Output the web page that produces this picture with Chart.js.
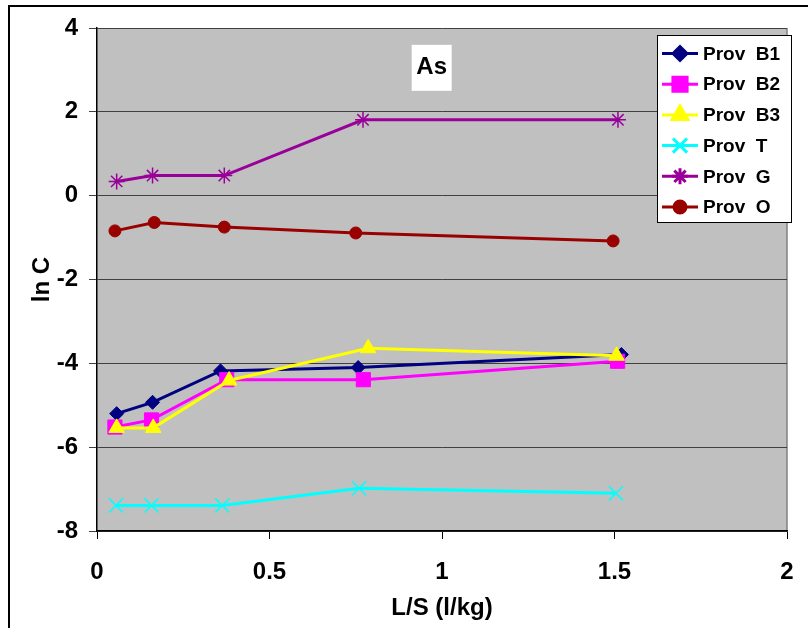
<!DOCTYPE html>
<html>
<head>
<meta charset="utf-8">
<script src="https://cdn.jsdelivr.net/npm/chart.js@4/dist/chart.umd.min.js"></script>
<style>
  html, body { margin: 0; padding: 0; background: #fff; }
  #wrap { width: 808px; height: 628px; position: relative; }
</style>
</head>
<body>
<div id="wrap"><canvas id="grafico" width="808" height="628"></canvas></div>
<script>
// tick labels
const xTicks = [0, 0.5, 1, 1.5, 2];
const yTicks = [-8, -6, -4, -2, 0, 2, 4];

// series
const nombres = ['Prov  B1', 'Prov  B2', 'Prov  B3', 'Prov  T', 'Prov  G', 'Prov  O'];
const xB1 = [0.057, 0.161, 0.358, 0.757, 1.52];
const yB1 = [-5.20, -4.93, -4.18, -4.10, -3.79];
const xB2 = [0.052, 0.158, 0.376, 0.772, 1.509];
const yB2 = [-5.52, -5.35, -4.39, -4.39, -3.95];
const xB3 = [0.057, 0.163, 0.383, 0.786, 1.506];
const yB3 = [-5.54, -5.54, -4.41, -3.64, -3.82];
const xT = [0.055, 0.158, 0.363, 0.760, 1.504];
const yT = [-7.39, -7.39, -7.39, -6.98, -7.10];
const xG = [0.057, 0.161, 0.369, 0.771, 1.51];
const yG = [0.34, 0.48, 0.48, 1.81, 1.81];
const xO = [0.052, 0.166, 0.369, 0.75, 1.496];
const yO = [-0.84, -0.64, -0.75, -0.89, -1.08];

const colores = ['#000080', '#FF00FF', '#FFFF00', '#00FFFF', '#990099', '#990000'];
const estilos = ['rectRot', 'rect', 'triangle', 'crossRot', 'star', 'circle'];
const radios = [7, 10, 9, 10, 8, 6];

const xs = [xB1, xB2, xB3, xT, xG, xO];
const ys = [yB1, yB2, yB3, yT, yG, yO];

const fuente = 'Arial, "Liberation Sans", sans-serif';

const datasets = nombres.map((nombre, i) => ({
  label: nombre,
  data: xs[i].map((x, j) => ({ x: x, y: ys[i][j] })),
  showLine: true,
  borderColor: colores[i],
  backgroundColor: colores[i],
  borderWidth: 3,
  pointStyle: estilos[i],
  pointRadius: radios[i],
  pointBorderColor: colores[i],
  pointBackgroundColor: colores[i],
  pointBorderWidth: (estilos[i] === 'crossRot' || estilos[i] === 'star') ? 1.5 : 1,
  order: nombres.length - i
}));

const fondo = {
  id: 'fondo',
  beforeDraw(chart) {
    const { ctx, chartArea: a } = chart;
    ctx.save();
    ctx.fillStyle = '#fff';
    ctx.fillRect(0, 0, chart.width, chart.height);
    ctx.strokeStyle = '#000';
    ctx.lineWidth = 2;
    ctx.strokeRect(9, 6, 900, 900);
    ctx.fillStyle = '#C0C0C0';
    ctx.fillRect(a.left, a.top, a.right - a.left, a.bottom - a.top);
    ctx.strokeStyle = '#808080';
    ctx.lineWidth = 1.5;
    ctx.beginPath();
    ctx.moveTo(a.right, a.top);
    ctx.lineTo(a.right, a.bottom);
    ctx.stroke();
    ctx.restore();
  },
  afterDraw(chart) {
    const ctx = chart.ctx;
    const sx = chart.scales.x, sy = chart.scales.y;
    ctx.save();
    // etiqueta "As"
    const ax = sx.getPixelForValue(0.97), ay = sy.getPixelForValue(3.05);
    ctx.fillStyle = '#fff';
    ctx.fillRect(ax - 20, ay - 23, 40, 46);
    ctx.fillStyle = '#000';
    ctx.font = 'bold 24px ' + fuente;
    ctx.textAlign = 'center';
    ctx.textBaseline = 'middle';
    ctx.fillText('As', ax, ay);

    // leyenda
    const lx = 657, ly = 35, lw = 134, lh = 187;
    ctx.fillStyle = '#fff';
    ctx.fillRect(lx, ly, lw, lh);
    ctx.strokeStyle = '#000';
    ctx.lineWidth = 1;
    ctx.strokeRect(lx + 0.5, ly + 0.5, lw, lh);
    ctx.font = 'bold 19px ' + fuente;
    ctx.textAlign = 'left';
    nombres.forEach((nombre, i) => {
      const y = ly + 18.5 + i * 30.7;
      ctx.strokeStyle = colores[i];
      ctx.lineWidth = 3;
      ctx.beginPath();
      ctx.moveTo(lx + 5, y);
      ctx.lineTo(lx + 41, y);
      ctx.stroke();
      ctx.fillStyle = colores[i];
      ctx.strokeStyle = colores[i];
      Chart.helpers.drawPoint(ctx, {
        pointStyle: estilos[i],
        radius: radios[i],
        rotation: 0,
        borderWidth: (estilos[i] === 'crossRot' || estilos[i] === 'star') ? 1.5 : 1
      }, lx + 23, y);
      ctx.fillStyle = '#000';
      ctx.fillText(nombre, lx + 46, y + 1);
    });
    ctx.restore();
  }
};

new Chart(document.getElementById('grafico').getContext('2d'), {
  type: 'scatter',
  data: { datasets: datasets },
  options: {
    responsive: false,
    animation: false,
    layout: { padding: { left: 10, top: 28, right: 21, bottom: 0 } },
    plugins: { legend: { display: false }, tooltip: { enabled: false } },
    scales: {
      x: {
        type: 'linear',
        min: 0, max: 2,
        afterBuildTicks: s => { s.ticks = xTicks.map(v => ({ value: v })); },
        afterFit: s => { s.height = 97; s.paddingLeft = 0; s.paddingRight = 0; },
        grid: { drawOnChartArea: false, drawTicks: true, tickLength: 8, color: '#000' },
        border: { color: '#000', width: 1.5 },
        ticks: { color: '#000', padding: 19, maxRotation: 0, callback: v => String(v), font: { family: fuente, size: 24, weight: 'bold' } },
        title: { display: true, text: 'L/S (l/kg)', color: '#000', padding: { top: 0, bottom: 5 }, font: { family: fuente, size: 24, weight: 'bold' } }
      },
      y: {
        type: 'linear',
        min: -8, max: 4,
        afterBuildTicks: s => { s.ticks = yTicks.map(v => ({ value: v })); },
        afterFit: s => { s.width = 87; s.paddingTop = 0; s.paddingBottom = 0; },
        grid: { drawOnChartArea: true, drawTicks: true, tickLength: 8, color: '#404040', lineWidth: 1 },
        border: { color: '#000', width: 1.5 },
        ticks: { color: '#000', padding: 11, callback: v => String(v), font: { family: fuente, size: 24, weight: 'bold' } },
        title: { display: true, text: 'ln C', color: '#000', padding: { top: 18, bottom: 0 }, font: { family: fuente, size: 24, weight: 'bold' } }
      }
    }
  },
  plugins: [fondo]
});
</script>
</body>
</html>
